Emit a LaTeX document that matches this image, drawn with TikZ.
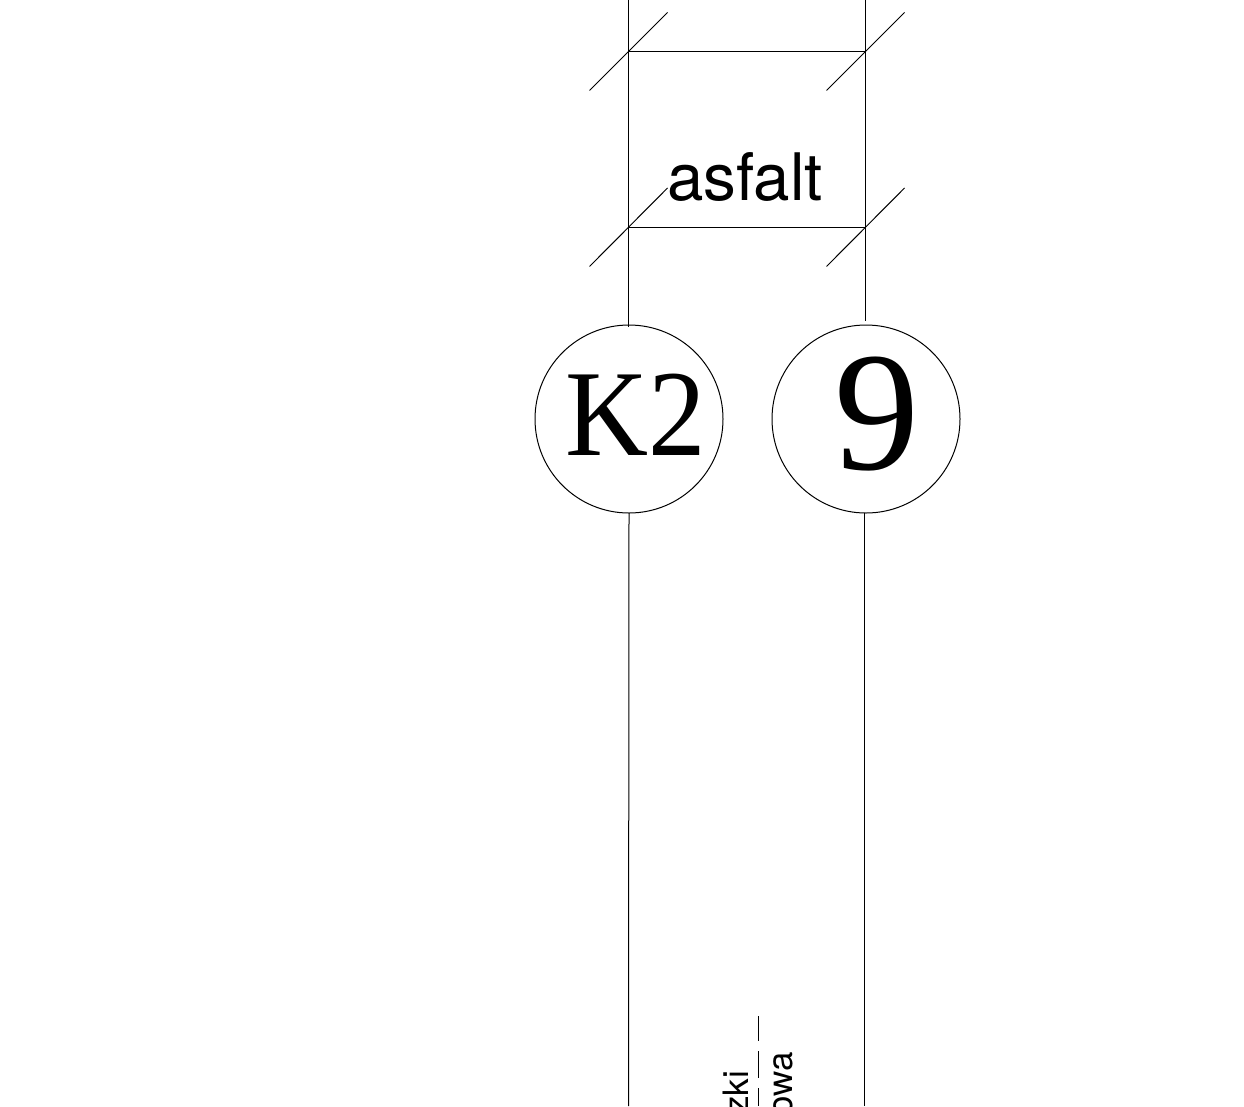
\documentclass[tikz,border=0pt]{standalone}
\usepackage{fontspec}
\usetikzlibrary{calc}
\setmainfont{Liberation Serif}
\newfontfamily\labelsans{TeX Gyre Heros}
\tikzset{
  thinline/.style={draw=black,line width=1pt},
  bubble/.style={circle,thinline,minimum size=188pt,inner sep=0pt,outer sep=0pt},
  roadlabel/.style={font=\labelsans\fontsize{65.5}{65.5}\selectfont,inner sep=0pt,anchor=base},
  sidelabel/.style={font=\labelsans\fontsize{35}{35}\selectfont,inner sep=0pt,rotate=90,anchor=base east},
}
\begin{document}
\begin{tikzpicture}[x=1pt,y=-1pt]
\useasboundingbox (0,0) rectangle (1244,1106);
\coordinate (lt) at (628.5,0);
\coordinate (rt) at (865.5,0);
\coordinate (lb) at (628.5,1106);
\coordinate (rb) at (864,1106);
\coordinate (l1) at (628.5,51);
\coordinate (r1) at (865.5,51);
\coordinate (l2) at (628.5,227);
\coordinate (r2) at (865.5,227);
\coordinate (rs) at (865.5,321);
\coordinate (ls) at (628.5,327);
\coordinate (d1a) at (758,1016);
\coordinate (d1b) at (758,1041);
\coordinate (d2a) at (758,1051);
\coordinate (d2b) at (758,1078);
\coordinate (d3a) at (758,1088);
\coordinate (d3b) at (758,1106);
% bubbles
\node[bubble] (k2) at (629,419) {};
\node[bubble] (nine) at (866,419) {};
\node[font=\fontsize{115}{115}\selectfont,inner sep=0pt,anchor=base] (k2t) at (635.5,455.5) {\scalebox{1}[1.07]{K2}};
\node[font=\fontsize{170}{170}\selectfont,inner sep=0pt,anchor=base] (ninet) at (877,469) {9};
% verticals
\draw[thinline] (lt) -- (ls);
\draw[thinline] (rt) -- (rs);
\draw[thinline] (k2.south) -- (lb);
\draw[thinline] (rb |- nine.south) -- (rb);
% horizontals
\draw[thinline] (l1) -- (r1);
\draw[thinline] (l2) -- (r2);
% slashes
\draw[thinline] ($(l1)+(-39,39.5)$) -- ($(l1)+(39,-38.5)$);
\draw[thinline] ($(r1)+(-39,39.5)$) -- ($(r1)+(39,-38.5)$);
\draw[thinline] ($(l2)+(-39,39.5)$) -- ($(l2)+(39,-39)$);
\draw[thinline] ($(r2)+(-39,39.5)$) -- ($(r2)+(39,-39)$);
% labels
\node[roadlabel] (asf) at (745,200) {asfalt};
\node[sidelabel] (zki) at (748,1071) {zki};
\node[sidelabel] (owa) at (792,1052) {owa};
% dashes
\draw[thinline] (d1a) -- (d1b);
\draw[thinline] (d2a) -- (d2b);
\draw[thinline] (d3a) -- (d3b);
\end{tikzpicture}
\end{document}
